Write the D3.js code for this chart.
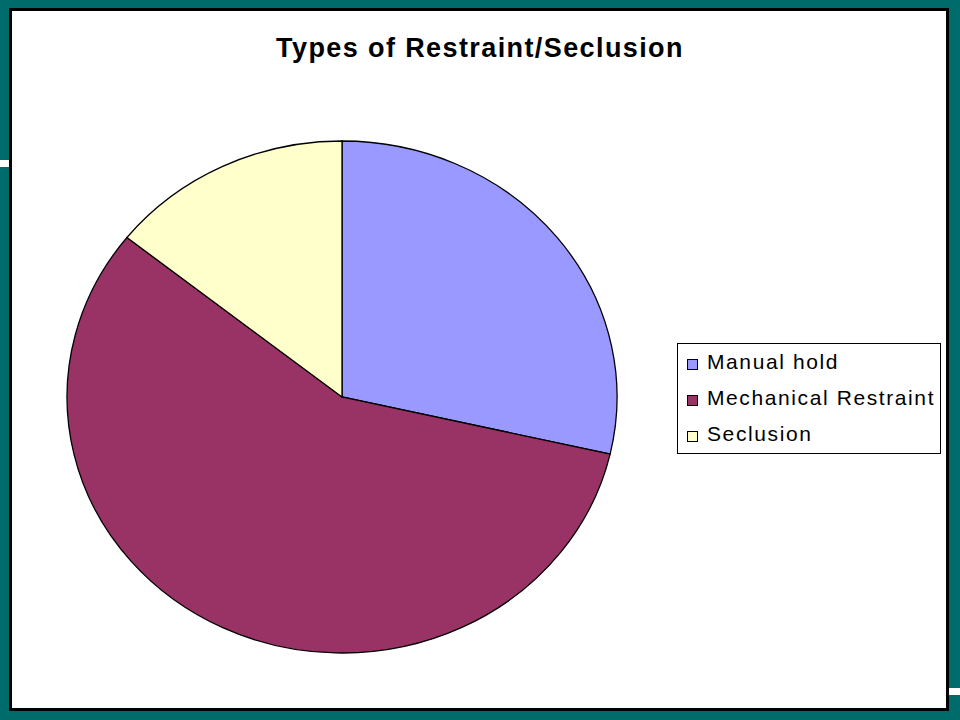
<!DOCTYPE html>
<html><head><meta charset="utf-8">
<script src="https://cdn.jsdelivr.net/npm/d3@7"></script>
<style>html,body{margin:0;padding:0;background:#006B6B;}svg{display:block;}</style>
</head><body>
<svg id="chart" width="960" height="720"></svg>
<script>
const categories = ["Manual hold", "Mechanical Restraint", "Seclusion"];
const values = [2, 4, 1];
const colors = ["#9999FF", "#993366", "#FFFFCC"];
const title = "Types of Restraint/Seclusion";

const svg = d3.select("#chart");
svg.append("rect").attr("width", 960).attr("height", 720).attr("fill", "#006B6B");
svg.append("rect").attr("x", 0).attr("y", 160).attr("width", 9).attr("height", 7).attr("fill", "#fff");
svg.append("rect").attr("x", 948).attr("y", 688).attr("width", 12).attr("height", 7).attr("fill", "#fff");
svg.append("rect").attr("x", 10.5).attr("y", 9.5).attr("width", 937).attr("height", 700)
  .attr("fill", "#fff").attr("stroke", "#000").attr("stroke-width", 3);

svg.append("text").attr("x", 480).attr("y", 57).attr("text-anchor", "middle")
  .attr("font-family", "Liberation Sans, Arial, sans-serif").attr("font-weight", "bold")
  .attr("font-size", 27).attr("letter-spacing", 1.4).attr("fill", "#000").text(title);

const cx = 342, cy = 397, rx = 275, ry = 256;
const pie = d3.pie().sort(null).value(d => d)(values);
const arc = d3.arc().innerRadius(0).outerRadius(1);
const color = d3.scaleOrdinal().domain(categories).range(colors);
const g = svg.append("g").attr("transform", `translate(${cx},${cy}) scale(${rx},${ry})`);
g.selectAll("path").data(pie).enter().append("path")
  .attr("d", arc)
  .attr("fill", (d, i) => color(categories[i]))
  .attr("stroke", "#000").attr("stroke-width", 1.3)
  .attr("vector-effect", "non-scaling-stroke");

const lg = svg.append("g");
lg.append("rect").attr("x", 677.5).attr("y", 343.5).attr("width", 263).attr("height", 110)
  .attr("fill", "#fff").attr("stroke", "#000").attr("stroke-width", 1);
const baselines = [369, 405, 441];
categories.forEach((c, i) => {
  lg.append("rect").attr("x", 687.5).attr("y", baselines[i] - 9.5).attr("width", 10).attr("height", 10)
    .attr("fill", color(c)).attr("stroke", "#000").attr("stroke-width", 1);
  lg.append("text").attr("x", 707).attr("y", baselines[i])
    .attr("font-family", "Liberation Sans, Arial, sans-serif").attr("font-size", 21)
    .attr("letter-spacing", 1.6).attr("fill", "#000").text(c);
});
</script>
</body></html>
